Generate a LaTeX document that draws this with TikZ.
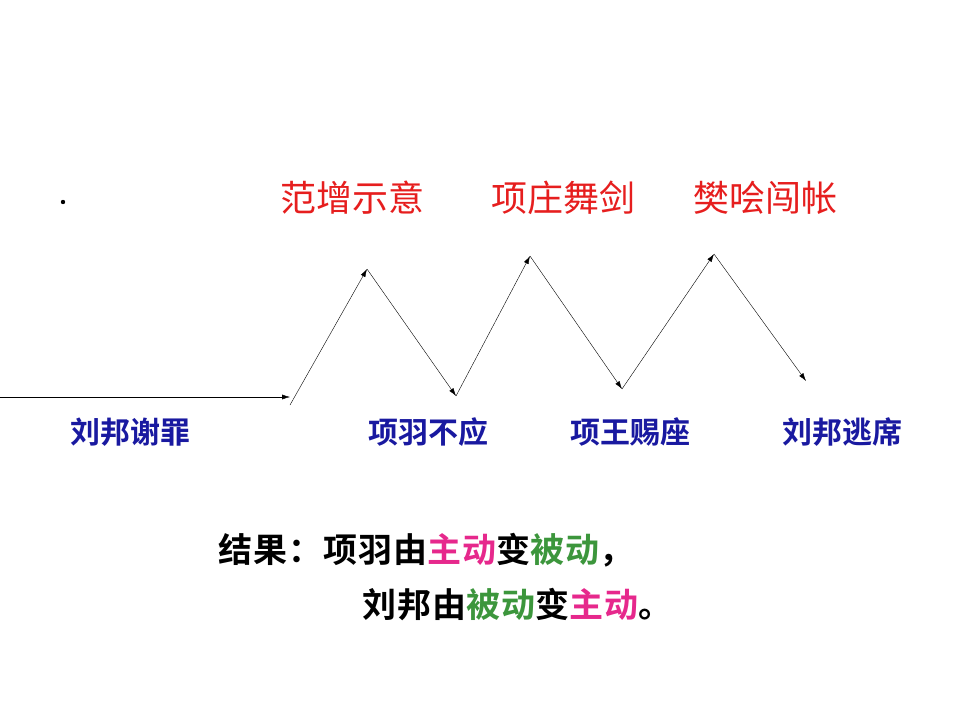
\documentclass[tikz,border=0pt]{standalone}
\usepackage{fontspec}
\usetikzlibrary{arrows.meta}
\newfontfamily\cjk{Noto Sans CJK SC}
\newfontfamily\cjkb{Noto Sans CJK SC Bold}
\newfontfamily\cjkbw[LetterSpace=3]{Noto Sans CJK SC Bold}
\definecolor{rd}{RGB}{230,30,30}
\definecolor{bl}{RGB}{25,25,160}
\definecolor{pk}{RGB}{230,40,140}
\definecolor{gn}{RGB}{60,150,60}
\begin{document}
\begin{tikzpicture}[x=1pt,y=-1pt,
 redlab/.style={text=rd,font=\cjk\fontsize{36}{40}\selectfont,anchor=center,inner sep=0},
 bluelab/.style={text=bl,font=\cjkb\fontsize{30}{34}\selectfont,anchor=center,inner sep=0},
 reslab/.style={font=\cjkbw\fontsize{34}{38}\selectfont,anchor=west,inner sep=0},
 seg/.style={-{Latex[length=8pt,width=5pt]},thin}]
\useasboundingbox (0,0) rectangle (960,720);
\fill (63,202) circle (2.2);
\node[redlab] (t1) at (352,198) {范增示意};
\node[redlab] (t2) at (563,198) {项庄舞剑};
\node[redlab] (t3) at (765,198) {樊哙闯帐};
\node[bluelab] (b1) at (130,432) {刘邦谢罪};
\node[bluelab] (b2) at (428,432) {项羽不应};
\node[bluelab] (b3) at (630,432) {项王赐座};
\node[bluelab] (b4) at (842,432) {刘邦逃席};
\coordinate (s0) at (0,397);
\coordinate (s1) at (290,397);
\coordinate (p0) at (290,405);
\coordinate (p1) at (367,269);
\coordinate (p2) at (456,396);
\coordinate (p3) at (530,256);
\coordinate (p4) at (622,389);
\coordinate (p5) at (714,254);
\coordinate (p6) at (806,381);
\draw[seg] (s0) -- (s1);
\draw[seg] (p0) -- (p1);
\draw[seg] (p1) -- (p2);
\draw[seg] (p2) -- (p3);
\draw[seg] (p3) -- (p4);
\draw[seg] (p4) -- (p5);
\draw[seg] (p5) -- (p6);
\node[reslab] (r1) at (218,550) {结果：项羽由\textcolor{pk}{主动}变\textcolor{gn}{被动}，};
\node[reslab] (r2) at (362,605) {刘邦由\textcolor{gn}{被动}变\textcolor{pk}{主动}。};
\end{tikzpicture}
\end{document}
